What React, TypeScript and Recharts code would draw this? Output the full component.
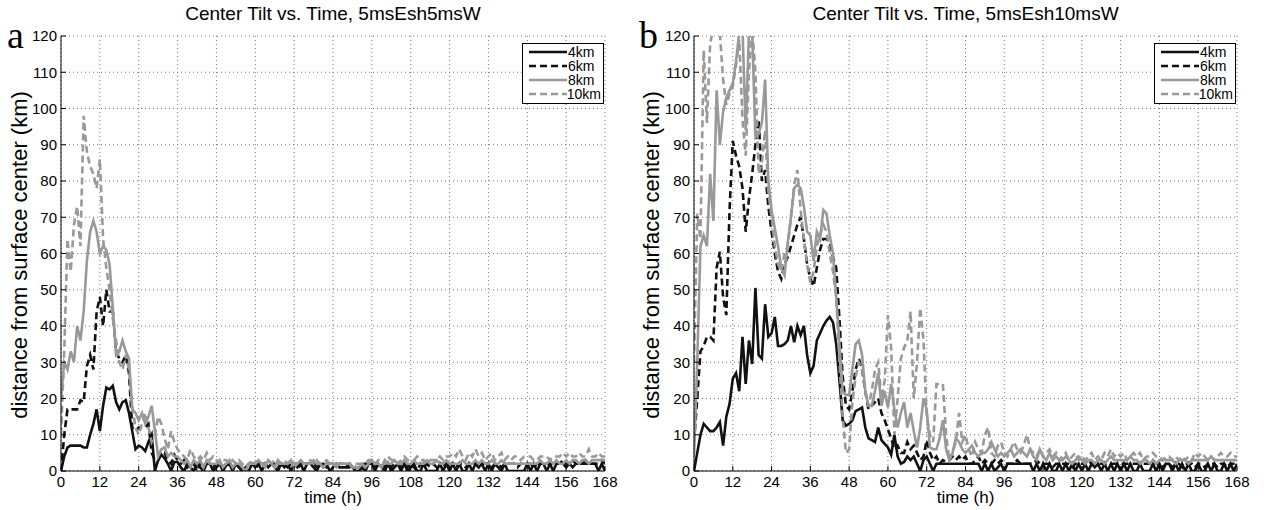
import React from "react";
import { LineChart, Line, XAxis, YAxis, CartesianGrid, Legend } from "recharts";

// hourly output, 0..168 h
const timeTicks = [0, 12, 24, 36, 48, 60, 72, 84, 96, 108, 120, 132, 144, 156, 168];
const distanceTicks = [0, 10, 20, 30, 40, 50, 60, 70, 80, 90, 100, 110, 120];
const levelNames = ["4km", "6km", "8km", "10km"];

// panel a: 5msEsh5msW
const tiltA4km = [
  0, 4, 6.5, 7, 7, 7, 7, 6.5, 6.5, 10, 13, 17,
  11, 18, 23, 22.5, 23.5, 19, 17, 19, 19.5, 16, 11, 6,
  7, 6.5, 5.5, 8, 10, 0, 3, 4.5, 3.5, 2, 0, 2.5,
  2.5, 1, 0, 2, 1, 0, 2, 1, 0, 2, 2, 0,
  1, 2, 0, 1.5, 2, 0, 2, 1, 0, 0, 0, 2,
  1, 2, 0, 2, 1, 2, 1, 0, 2, 1, 2, 0,
  2, 1, 2, 0, 2, 2, 1, 0, 2, 1, 2, 0,
  1, 2, 1, 1, 1, 2, 1, 0, 0, 1, 0, 2,
  2, 0, 2, 1, 0, 2, 0, 1, 2, 0, 2, 0,
  1, 2, 0, 0, 2, 0, 0, 0, 0, 2, 0, 2,
  0, 2, 0, 2, 0, 0, 2, 0, 2, 1, 2, 0,
  2, 0, 2, 1, 0, 2, 0, 0, 0, 0, 0, 0,
  2, 0, 2, 0, 2, 2, 0, 2, 0, 2, 2, 2,
  1, 2, 1, 2, 2, 2, 2, 2, 2, 2, 0, 2,
  0,
];
const tiltA6km = [
  0, 10, 17, 17, 17, 17, 19.5, 19, 29, 32, 28, 44,
  48, 40, 50, 44, 44, 33, 31, 30, 32, 27, 12, 11,
  12, 12, 12, 13, 5, 3, 3, 5, 5, 3, 2, 4.5,
  3, 2, 3, 1, 2, 2, 0, 2, 1, 2, 2, 1,
  2, 2, 1, 2, 2, 1, 2, 1, 0, 1, 2, 2,
  2, 1, 2, 2, 1, 2, 2, 1, 2, 2, 1, 2,
  2, 2, 1, 2, 2, 2, 2, 1, 2, 2, 1, 2,
  2, 1, 2, 2, 1, 1, 2, 1, 1, 2, 2, 2,
  2, 1, 2, 2, 1, 2, 1, 2, 2, 1, 2, 1,
  2, 1, 0, 2, 1, 2, 1, 2, 1, 2, 2, 1,
  2, 2, 1, 2, 2, 1, 2, 2, 2, 1, 2, 2,
  2, 1, 2, 2, 1, 2, 2, 2, 2, 1, 2, 2,
  2, 2, 1, 2, 2, 2, 2, 2, 2, 2, 2, 3,
  2, 2, 3, 2, 2, 2, 3, 2, 2, 2, 2, 3,
  2,
];
const tiltA8km = [
  20, 30, 28, 33, 30, 40, 36, 44, 58, 66, 69, 66,
  60, 62, 61, 57, 45, 32, 33, 36, 33, 31, 17, 16,
  14, 16, 13, 15, 18, 11, 4, 6, 6.5, 4, 5, 4,
  4, 3, 2, 3, 1, 3, 2, 3, 1, 3, 2, 2,
  2, 3, 1, 2, 3, 1, 2, 2, 1, 0, 2, 2,
  2, 3, 2, 1, 3, 2, 1, 3, 2, 2, 2, 3,
  1, 2, 3, 2, 2, 2, 3, 2, 2, 1, 2, 2,
  2, 1, 2, 2, 2, 2, 1, 1, 1, 2, 1, 2,
  3, 2, 2, 1, 3, 2, 2, 3, 2, 2, 3, 2,
  2, 3, 2, 2, 2, 3, 2, 2, 3, 2, 2, 3,
  2, 2, 2, 2, 3, 2, 2, 2, 3, 2, 3, 2,
  2, 3, 2, 2, 3, 2, 2, 2, 2, 2, 2, 2,
  2, 2, 2, 2, 3, 2, 2, 3, 2, 3, 2, 2,
  3, 2, 3, 3, 2, 3, 3, 2, 3, 3, 3, 3,
  3,
];
const tiltA10km = [
  10, 33, 64, 55, 68, 73, 62, 98, 88, 84, 82, 78,
  86, 64, 56, 50, 42, 36, 30, 28, 32, 28, 18, 12,
  10, 13, 16, 12, 8, 10, 15, 13, 9, 6, 11, 8,
  6, 5, 4, 3, 6, 4, 3, 4, 3, 5, 3, 4,
  3, 2, 3, 3, 2, 3, 2, 3, 2, 1, 2, 3,
  2, 3, 2, 2, 3, 2, 3, 2, 2, 3, 2, 3,
  2, 2, 3, 2, 2, 3, 2, 3, 2, 2, 3, 2,
  2, 2, 2, 2, 2, 2, 2, 2, 2, 2, 2, 3,
  3, 2, 3, 2, 2, 4, 3, 3, 2, 3, 4, 3,
  3, 3, 4, 3, 3, 2, 3, 3, 3, 4, 3, 4,
  4, 5, 4, 6, 4, 3, 5, 4, 6, 4, 5, 3,
  4, 5, 3, 4, 5, 3, 4, 3, 4, 4, 3, 4,
  4, 4, 3, 3, 4, 4, 4, 3, 4, 4, 4, 5,
  4, 5, 4, 4, 5, 4, 4, 6, 4, 4, 5, 4,
  4,
];

// panel b: 5msEsh10msW
const tiltB4km = [
  0, 5, 10, 13, 12, 11, 11, 12, 13.5, 7, 15, 18.5,
  25.5, 27, 22, 37, 24, 36, 29.5, 50.5, 32, 31, 46, 37,
  38, 42.5, 34.5, 34.5, 35, 36, 40, 35.5, 40, 37.5, 40, 32,
  27, 29, 36, 38, 40, 41.5, 42.5, 41, 35, 25, 14, 12.5,
  13, 14, 16.5, 17, 17.5, 12, 9, 8.5, 8, 12, 8.5, 7.5,
  6.5, 4.5, 10, 4, 2, 2.5, 4, 3, 4, 2, 0, 3,
  4, 2, 0, 2, 2, 2, 2, 2, 2, 2, 2, 2,
  2, 2, 2, 2, 2, 0, 2, 0, 2, 0, 1, 2,
  0, 2, 2, 2, 2, 2, 2, 2, 2, 0, 2, 0,
  2, 0, 2, 0, 0, 2, 0, 2, 0, 2, 0, 2,
  0, 2, 0, 2, 1, 2, 0, 2, 0, 2, 0, 2,
  0, 2, 0, 2, 0, 0, 2, 0, 0, 0, 2, 0,
  2, 0, 2, 2, 0, 2, 0, 2, 0, 2, 0, 0,
  2, 0, 0, 2, 0, 2, 0, 0, 2, 0, 2, 0,
  2,
];
const tiltB6km = [
  8, 20, 33, 34.5, 37, 37, 36, 56, 60.5, 48, 43, 72,
  91, 87, 84, 78, 66, 75, 82, 90, 97, 80, 83, 73,
  66, 60, 55, 53, 57, 59, 62, 65, 68, 70, 64, 57,
  53, 51, 56, 61, 64, 64, 63, 59, 56, 42, 26, 18,
  17, 22, 28, 31, 28, 22, 17, 18, 19, 20, 16, 14,
  11.5, 9, 6, 7, 5, 5, 8, 6, 7, 5, 3, 4,
  8.5, 5, 3, 4, 2, 3, 2.5, 3, 4, 3, 4, 3,
  4, 2, 2, 3, 4, 2, 3, 2, 2, 3, 2, 3,
  2, 2, 2, 2, 3, 2, 2, 2, 2, 2, 3, 2,
  2, 2, 2, 1, 2, 2, 2, 2, 2, 1, 2, 2,
  2, 2, 3, 2, 2, 2, 2, 2, 2, 2, 2, 2,
  2, 2, 2, 2, 2, 2, 2, 2, 2, 2, 3, 2,
  2, 1, 2, 2, 1, 2, 2, 1, 2, 2, 2, 1,
  2, 2, 1, 2, 2, 2, 1, 2, 2, 1, 2, 2,
  2,
];
const tiltB8km = [
  4, 30, 62, 65, 62, 82, 69, 105, 90, 99, 103, 105,
  107, 113, 121, 122, 94, 121, 121, 92, 93, 96, 108, 80,
  72, 67, 62, 56, 54, 63, 70, 78, 79, 78, 73, 66,
  65, 58, 66, 64, 72, 71, 65, 60, 48, 35, 22, 21,
  21, 28, 35, 36, 32, 22, 18, 18, 22, 27, 18, 22,
  17.5, 24, 17, 12, 16, 19, 12, 16, 11, 6.5, 12, 20,
  17, 6.5, 6, 6, 9, 14, 6, 3, 5, 9, 8, 6,
  5, 6, 7, 5, 4, 5, 5, 6, 8, 6, 4, 5,
  4, 5, 6, 4, 5, 6, 5, 4, 6, 4, 3, 6,
  4, 3, 5, 3, 4, 3, 3, 4, 3, 2, 3, 4,
  3, 2, 3, 3, 2, 3, 3, 2, 3, 4, 3, 3,
  3, 3, 3, 4, 3, 3, 2, 3, 3, 2, 3, 2,
  3, 3, 3, 3, 3, 2, 3, 3, 3, 2, 3, 3,
  3, 3, 3, 3, 4, 3, 3, 3, 3, 3, 3, 3,
  3,
];
const tiltB10km = [
  30, 71, 64, 116, 96, 118, 122, 122, 121, 108, 101, 104,
  106, 112, 119, 97, 87, 110, 122, 110, 82, 85, 94, 77,
  70, 62, 57, 55, 60, 62, 70, 79, 83, 72, 64, 57,
  52, 55, 62, 65, 68, 66, 60, 55, 48, 30, 15, 5,
  6, 19, 26, 30, 28, 22, 18, 22, 28, 30, 20, 25,
  43, 34, 10, 20, 31, 34, 36, 44, 20, 30, 45, 36,
  15, 10, 8, 24, 24, 24, 10, 3, 5, 8, 16, 8,
  10, 6, 4, 8, 6, 5, 10, 12, 5, 4, 7, 8,
  5, 4, 6, 8, 6, 5, 7, 10, 6, 5, 4, 6,
  4, 5, 6, 4, 5, 3, 4, 5, 3, 4, 5, 3,
  4, 3, 4, 5, 3, 4, 3, 5, 4, 6, 4, 5,
  4, 5, 3, 4, 5, 4, 5, 3, 4, 4, 5, 4,
  4, 3, 4, 4, 3, 4, 3, 4, 3, 4, 3, 5,
  4, 5, 4, 3, 4, 3, 4, 5, 4, 4, 5, 4,
  4,
];

const BLACK = "#111111";
const GRAY = "#999999";
const lineStyles = [
  { color: BLACK, dash: undefined },
  { color: BLACK, dash: "7 4" },
  { color: GRAY, dash: undefined },
  { color: GRAY, dash: "7 4" },
];

function toRows(series: number[][]) {
  return series[0].map((_, i) => {
    const row: Record<string, number> = { time: i };
    series.forEach((s, k) => {
      row[levelNames[k]] = s[i];
    });
    return row;
  });
}

function TiltLegend() {
  return (
    <div
      style={{
        border: "1px solid #000",
        background: "#fff",
        padding: "1px 2px 2px 1px",
        fontSize: 14,
        lineHeight: "14px",
        color: "#000",
        width: 77,
      }}
    >
      {levelNames.map((name, k) => (
        <div key={name} style={{ display: "flex", alignItems: "center" }}>
          <svg width={44} height={14}>
            <line
              x1={5}
              x2={43}
              y1={7}
              y2={7}
              stroke={lineStyles[k].color}
              strokeWidth={2.6}
              strokeDasharray={lineStyles[k].dash}
            />
          </svg>
          <span>{name}</span>
        </div>
      ))}
    </div>
  );
}

const axisTick = { fontSize: 15, fill: "#000" };

function TiltPanel({
  letter,
  title,
  series,
  left,
  marginLeft,
}: {
  letter: string;
  title: string;
  series: number[][];
  left: number;
  marginLeft: number;
}) {
  const data = toRows(series);
  const plotLeft = marginLeft + 45;
  const plotRight = 632 - 27;
  const plotMid = (plotLeft + plotRight) / 2;
  return (
    <div style={{ position: "absolute", left, top: 0, width: 632, height: 510 }}>
      <LineChart
        width={632}
        height={510}
        data={data}
        margin={{ top: 36, right: 27, bottom: 17, left: marginLeft }}
      >
        <CartesianGrid stroke="#777" strokeDasharray="1 3" />
        <XAxis
          dataKey="time"
          type="number"
          domain={[0, 168]}
          ticks={timeTicks}
          interval={0}
          allowDataOverflow
          height={22}
          tickSize={-5}
          tickMargin={10}
          stroke="#000"
          tick={axisTick}
        />
        <XAxis
          xAxisId="top"
          orientation="top"
          dataKey="time"
          type="number"
          domain={[0, 168]}
          ticks={timeTicks}
          interval={0}
          height={0}
          tickSize={-5}
          tick={false}
          stroke="#000"
        />
        <YAxis
          type="number"
          domain={[0, 120]}
          ticks={distanceTicks}
          interval={0}
          allowDataOverflow
          width={45}
          tickSize={-5}
          tickMargin={9}
          stroke="#000"
          tick={axisTick}
        />
        <YAxis
          yAxisId="right"
          orientation="right"
          type="number"
          domain={[0, 120]}
          ticks={distanceTicks}
          interval={0}
          width={0}
          tickSize={-5}
          tick={false}
          stroke="#000"
        />
        <Legend
          layout="vertical"
          align="center"
          verticalAlign="middle"
          wrapperStyle={{ top: 43, left: plotRight - 83, width: "auto" }}
          content={<TiltLegend />}
        />
        {levelNames.map((name, k) => (
          <Line
            key={name}
            dataKey={name}
            type="linear"
            stroke={lineStyles[k].color}
            strokeWidth={2.6}
            strokeDasharray={lineStyles[k].dash}
            dot={false}
            activeDot={false}
            isAnimationActive={false}
          />
        ))}
      </LineChart>
      <div
        style={{
          position: "absolute",
          left: plotLeft,
          width: plotRight - plotLeft,
          top: 2,
          textAlign: "center",
          fontSize: 19,
          lineHeight: "24px",
        }}
      >
        {title}
      </div>
      <div
        style={{
          position: "absolute",
          left: 7,
          top: 20,
          fontFamily: "'Liberation Serif', 'DejaVu Serif', serif",
          fontSize: 38,
          lineHeight: "30px",
        }}
      >
        {letter}
      </div>
      <div
        style={{
          position: "absolute",
          left: 20,
          top: 255,
          transform: "translate(-50%, -50%) rotate(-90deg)",
          whiteSpace: "nowrap",
          fontSize: 22,
        }}
      >
        distance from surface center (km)
      </div>
      <div
        style={{
          position: "absolute",
          left: plotMid,
          top: 488,
          transform: "translateX(-50%)",
          whiteSpace: "nowrap",
          fontSize: 17,
        }}
      >
        time (h)
      </div>
    </div>
  );
}

export default function App() {
  return (
    <div
      style={{
        position: "absolute",
        left: 0,
        top: 0,
        width: 1264,
        height: 510,
        background: "#fff",
        fontFamily: "'Liberation Sans', Arial, sans-serif",
        color: "#000",
      }}
    >
      <TiltPanel
        letter="a"
        title="Center Tilt vs. Time, 5msEsh5msW"
        series={[tiltA4km, tiltA6km, tiltA8km, tiltA10km]}
        left={0}
        marginLeft={16}
      />
      <TiltPanel
        letter="b"
        title="Center Tilt vs. Time, 5msEsh10msW"
        series={[tiltB4km, tiltB6km, tiltB8km, tiltB10km]}
        left={632}
        marginLeft={17}
      />
    </div>
  );
}
